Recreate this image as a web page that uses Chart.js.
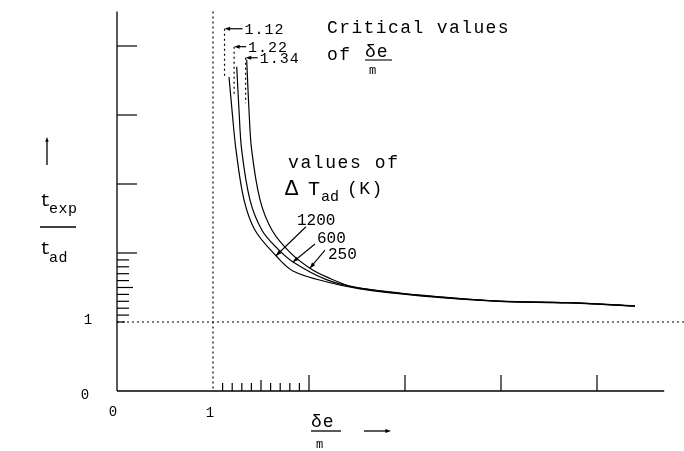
<!DOCTYPE html>
<html>
<head>
<meta charset="utf-8">
<script src="https://cdn.jsdelivr.net/npm/chart.js@4"></script>
<style>
  body { margin: 0; background: #fff; }
  #wrap { width: 684px; height: 451px; }
</style>
</head>
<body>
<div id="wrap"><canvas id="delayChart" width="684" height="451"></canvas></div>
<script>
// curves t_exp/t_ad vs delta*e/m for three values of dT_ad
var dTadLabels = ["1200", "600", "250"];
var criticalValues = [1.12, 1.22, 1.34];

var x1200 = [1.167, 1.198, 1.24, 1.323, 1.438, 1.656, 1.833, 2.188, 2.531, 3.156, 3.99, 4.688, 5.396];
var y1200 = [4.55, 4.07, 3.49, 2.77, 2.33, 1.96, 1.74, 1.58, 1.48, 1.38, 1.3, 1.28, 1.23];

var x600 = [1.247, 1.271, 1.299, 1.385, 1.51, 1.667, 1.833, 2.188, 2.531, 3.156, 3.99, 4.688, 5.396];
var y600 = [4.7, 4.07, 3.49, 2.77, 2.33, 2.07, 1.87, 1.61, 1.49, 1.385, 1.3, 1.277, 1.232];

var x250 = [1.351, 1.375, 1.403, 1.49, 1.615, 1.802, 2.01, 2.188, 2.458, 2.948, 3.156, 3.99, 4.688, 5.396];
var y250 = [4.8, 4.07, 3.49, 2.77, 2.33, 2.01, 1.78, 1.65, 1.51, 1.42, 1.39, 1.302, 1.28, 1.234];

// dotted stubs above each curve (top, bottom)
var criticalTop = [5.25, 4.99, 4.83];
var criticalBottom = [4.57, 4.29, 4.17];

// where the dT_ad labels point on the curves
var markerX = [1.656, 1.833, 2.01];
var markerY = [1.96, 1.87, 1.78];

var xTickLabels = ["0", "1"];
var yTickLabels = ["0", "1"];
var xMajor = [2, 3, 4, 5];
var yMajor = [2, 3, 4, 5];
var minorTicks = [1.1, 1.2, 1.3, 1.4, 1.5, 1.6, 1.7, 1.8, 1.9];

function pts(xs, ys) {
   var out = [];
   for (let i = 0; i < xs.length; i++) {
      out.push({ x: xs[i], y: ys[i] });
   }
   return out;
}

var curveSets = [pts(x1200, y1200), pts(x600, y600), pts(x250, y250)];
var datasets = [];
for (let i = 0; i < curveSets.length; i++) {
   datasets.push({
      label: dTadLabels[i],
      data: curveSets[i],
      showLine: true,
      borderColor: "#000",
      borderWidth: 1.2,
      pointRadius: 0,
      tension: 0.35,
      fill: false,
   });
}
for (let i = 0; i < criticalValues.length; i++) {
   datasets.push({
      label: "crit " + criticalValues[i],
      data: [
         { x: criticalValues[i], y: criticalTop[i] },
         { x: criticalValues[i], y: criticalBottom[i] },
      ],
      showLine: true,
      borderColor: "#000",
      borderWidth: 1.2,
      borderDash: [2, 3],
      pointRadius: 0,
   });
}

var FONT = "'Liberation Mono', 'DejaVu Sans Mono', monospace";

function txt(ctx, s, x, y, size, spacing) {
   ctx.font = size + "px " + FONT;
   ctx.letterSpacing = (spacing || 0) + "px";
   ctx.fillText(s, x, y);
}

function arrowHead(ctx, x0, y0, x1, y1, len) {
   var a = Math.atan2(y1 - y0, x1 - x0);
   ctx.beginPath();
   ctx.moveTo(x1, y1);
   ctx.lineTo(x1 - len * Math.cos(a - 0.35), y1 - len * Math.sin(a - 0.35));
   ctx.lineTo(x1 - len * Math.cos(a + 0.35), y1 - len * Math.sin(a + 0.35));
   ctx.closePath();
   ctx.fill();
}

function line(ctx, x0, y0, x1, y1) {
   ctx.beginPath();
   ctx.moveTo(x0, y0);
   ctx.lineTo(x1, y1);
   ctx.stroke();
}

var plotterAxes = {
   id: "plotterAxes",
   afterDraw(chart) {
      var ctx = chart.ctx;
      var xs = chart.scales.x;
      var ys = chart.scales.y;
      var x0 = xs.getPixelForValue(0);
      var y0 = ys.getPixelForValue(0);
      var area = chart.chartArea;
      ctx.save();
      ctx.strokeStyle = "#000";
      ctx.fillStyle = "#000";
      ctx.lineWidth = 1.3;

      // axes
      line(ctx, x0, y0, x0, area.top);
      line(ctx, x0, y0, area.right, y0);

      // major ticks, drawn inward
      ctx.lineWidth = 1.2;
      xMajor.forEach(function (v) {
         var p = xs.getPixelForValue(v);
         line(ctx, p, y0, p, y0 - 16);
      });
      yMajor.forEach(function (v) {
         var p = ys.getPixelForValue(v);
         line(ctx, x0, p, x0 + 20, p);
      });
      minorTicks.forEach(function (v) {
         var big = Math.abs(v - 1.5) < 0.01;
         var px = xs.getPixelForValue(v);
         line(ctx, px, y0, px, y0 - (big ? 11 : 8));
         var py = ys.getPixelForValue(v);
         line(ctx, x0, py, x0 + (big ? 16 : 12), py);
      });
      var y1p = ys.getPixelForValue(1);
      line(ctx, x0, y1p, x0 + 8, y1p);

      // dotted reference lines at 1
      ctx.setLineDash([2, 3]);
      ctx.lineWidth = 1.2;
      var x1p = xs.getPixelForValue(1);
      line(ctx, x1p, area.top, x1p, y0);
      line(ctx, x0, y1p, chart.width, y1p);
      ctx.setLineDash([]);

      // tick labels
      ctx.textAlign = "center";
      ctx.textBaseline = "middle";
      txt(ctx, xTickLabels[0], xs.getPixelForValue(0) - 4, y0 + 21, 14);
      txt(ctx, xTickLabels[1], xs.getPixelForValue(1) - 3, y0 + 22, 14);
      txt(ctx, yTickLabels[0], x0 - 32, ys.getPixelForValue(0) + 4, 14);
      txt(ctx, yTickLabels[1], x0 - 29, ys.getPixelForValue(1) - 2, 14);

      ctx.textAlign = "left";
      ctx.textBaseline = "alphabetic";

      // critical value labels with arrows
      var arrowLen = [18, 12, 12];
      for (let i = 0; i < criticalValues.length; i++) {
         var cx = xs.getPixelForValue(criticalValues[i]);
         var cy = ys.getPixelForValue(criticalTop[i]);
         ctx.lineWidth = 1.2;
         line(ctx, cx + arrowLen[i], cy, cx + 3, cy);
         arrowHead(ctx, cx + arrowLen[i], cy, cx, cy, 6);
         txt(ctx, criticalValues[i].toFixed(2), cx + arrowLen[i] + 2, cy + 5, 15, 1);
      }

      // dT_ad labels with leader lines
      var offs = [[30, -29], [22, -18], [15, -18]];
      var textPos = [[297, 225], [317, 243], [328, 259]];
      for (let i = 0; i < dTadLabels.length; i++) {
         var mx = xs.getPixelForValue(markerX[i]);
         var my = ys.getPixelForValue(markerY[i]);
         ctx.lineWidth = 1.1;
         line(ctx, mx + offs[i][0], my + offs[i][1], mx, my);
         arrowHead(ctx, mx + offs[i][0], my + offs[i][1], mx, my, 6);
         txt(ctx, dTadLabels[i], textPos[i][0], textPos[i][1], 16, 0);
      }

      // notes
      txt(ctx, "Critical values", 327, 33, 18, 1.4);
      txt(ctx, "of", 327, 60, 18, 1.4);
      txt(ctx, "\u03b4e", 365, 57, 18, 1);
      line(ctx, 365, 60, 392, 60);
      txt(ctx, "m", 369, 74, 12, 0);

      txt(ctx, "values of", 288, 168, 18, 1.6);
      txt(ctx, "\u0394", 285, 195, 22, 0);
      txt(ctx, "T", 308, 195, 20, 0);
      txt(ctx, "ad", 321, 201, 15, 0);
      txt(ctx, "(K)", 347, 194, 18, 1.5);

      // y axis title
      ctx.lineWidth = 1.3;
      line(ctx, 47, 165, 47, 140);
      arrowHead(ctx, 47, 165, 47, 137, 5);
      txt(ctx, "t", 40, 206, 18, 0);
      txt(ctx, "exp", 49, 213, 15, 0.5);
      line(ctx, 40, 227, 76, 227);
      txt(ctx, "t", 40, 254, 18, 0);
      txt(ctx, "ad", 49, 262, 15, 0.5);

      // x axis title
      txt(ctx, "\u03b4e", 311, 427, 18, 1);
      line(ctx, 311, 431, 341, 431);
      txt(ctx, "m", 316, 448, 12, 0);
      line(ctx, 364, 431, 386, 431);
      arrowHead(ctx, 364, 431, 391, 431, 6);

      ctx.restore();
   },
};

var ctx = document.getElementById("delayChart").getContext("2d");
var chart = new Chart(ctx, {
   type: "scatter",
   data: { datasets: datasets },
   options: {
      responsive: false,
      animation: false,
      devicePixelRatio: 1,
      layout: { padding: { left: 117, right: 19.8, top: 11.5, bottom: 60 } },
      plugins: { legend: { display: false }, tooltip: { enabled: false } },
      scales: {
         x: { type: "linear", min: 0, max: 5.7, display: false },
         y: { type: "linear", min: 0, max: 5.5, display: false },
      },
   },
   plugins: [plotterAxes],
});
</script>
</body>
</html>
